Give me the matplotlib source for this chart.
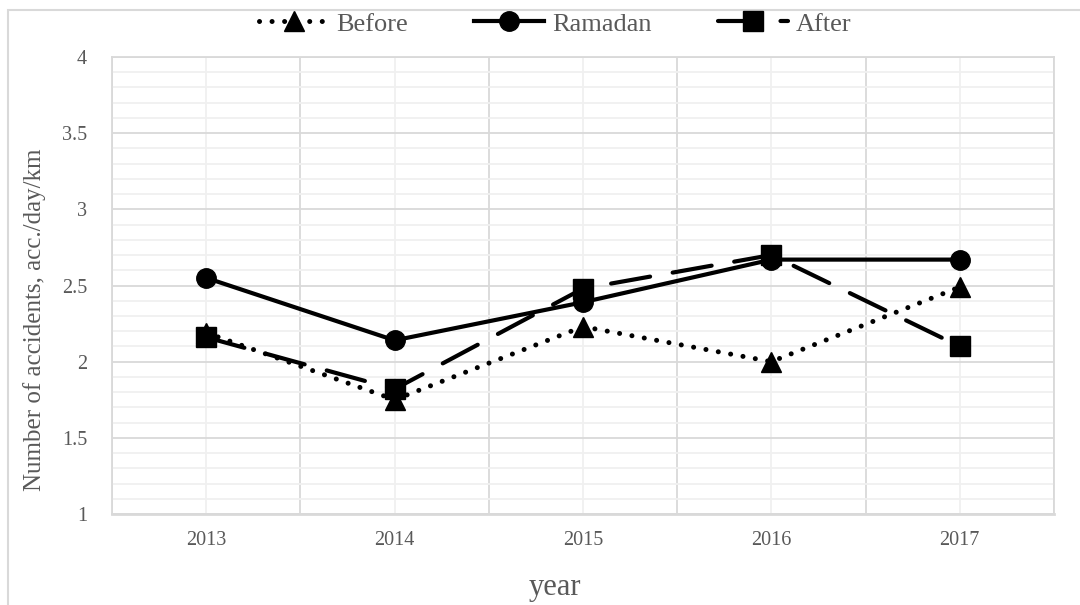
import matplotlib
matplotlib.use('Agg')
import matplotlib.pyplot as plt
from matplotlib.patches import Rectangle
from matplotlib.ticker import FixedLocator, FormatStrFormatter, NullFormatter

# data
years = ['2013', '2014', '2015', '2016', '2017']
before = [2.19, 1.75, 2.23, 2.00, 2.49]
ramadan = [2.55, 2.14, 2.39, 2.67, 2.67]
after = [2.16, 1.82, 2.48, 2.70, 2.10]

plt.rcParams['font.family'] = ['Liberation Serif', 'DejaVu Serif']
txt = '#595959'
grid_major = '#d9d9d9'
grid_minor = '#f0f0f0'

fig = plt.figure(figsize=(10.8, 6.05), dpi=100)
ax = fig.add_axes([112 / 1080, 91 / 605, 942 / 1080, 457 / 605])

# outer chart border (runs off the right and bottom edge)
fig.patches.append(Rectangle((8 / 1080, -0.1), 1.2, 1 - 10 / 605 + 0.1,
                             transform=fig.transFigure, fill=False,
                             edgecolor=grid_major, linewidth=1.5))

x = list(range(len(years)))
ax.plot(x, before, color='black', lw=3.6, linestyle=(0, (0.01, 2.5)),
        dash_capstyle='round', marker='^', markersize=14, label='Before', zorder=3)
ax.plot(x, ramadan, color='black', lw=3, linestyle='-',
        marker='o', markersize=14, label='Ramadan', zorder=4)
ax.plot(x, after, color='black', lw=3, linestyle=(0, (9.5, 5.5)),
        dash_capstyle='round', marker='s', markersize=14, label='After', zorder=5)

ax.set_xlim(-0.5, len(years) - 0.5)
ax.set_ylim(1, 4)

# category boundaries as major ticks, centres as minor ticks with labels
ax.xaxis.set_major_locator(FixedLocator([i - 0.5 for i in range(len(years) + 1)]))
ax.xaxis.set_major_formatter(NullFormatter())
ax.xaxis.set_minor_locator(FixedLocator(x))
ax.set_xticks(x, years, minor=True)

ax.yaxis.set_major_locator(FixedLocator([1 + 0.5 * i for i in range(7)]))
ax.yaxis.set_minor_locator(FixedLocator([1 + 0.1 * i for i in range(31)]))
ax.yaxis.set_major_formatter(FormatStrFormatter('%g'))

ax.tick_params(which='both', length=0, colors=txt, labelsize=14.5)
ax.tick_params(axis='x', which='minor', pad=12)
ax.tick_params(axis='y', pad=18)

ax.grid(which='major', color=grid_major, linewidth=1.3)
ax.grid(which='minor', color=grid_minor, linewidth=1.3)
ax.set_axisbelow(True)
for s in ax.spines.values():
    s.set_color(grid_major)
    s.set_linewidth(1.3)
ax.spines['bottom'].set_linewidth(2)

fig.text(35 / 1080, 1 - 320 / 605, 'Number of accidents, acc./day/km', rotation=90,
         ha='center', va='center', fontsize=18, color=txt)
fig.text(555 / 1080, 1 - 588 / 605, 'year', ha='center', va='center',
         fontsize=22, color=txt)

fig.legend(loc='center', bbox_to_anchor=(555 / 1080, 1 - 24 / 605), ncol=3,
           frameon=False, fontsize=19, labelcolor=txt, handlelength=2.65,
           handletextpad=0.3, columnspacing=2.5, borderpad=0)

fig.savefig('out.png', dpi=100)
